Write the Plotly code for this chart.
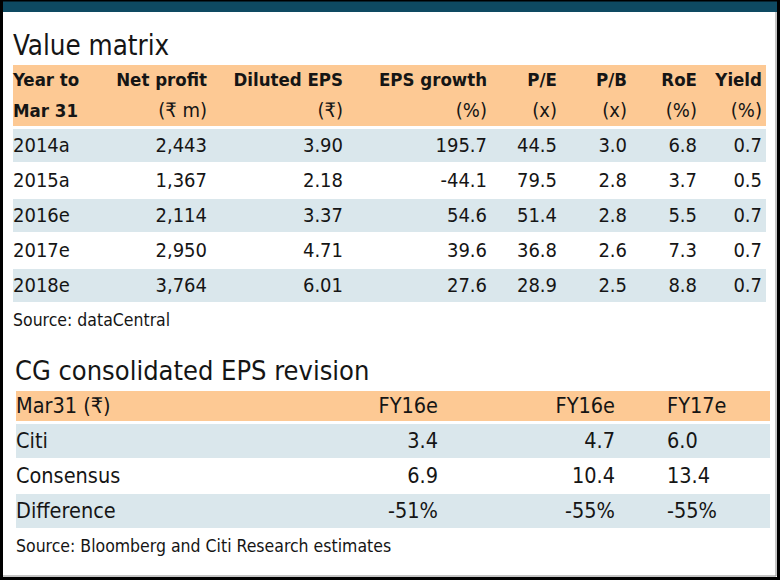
import plotly.graph_objects as go

W, H = 780, 580

# ---- Value matrix data
years = ['2014a', '2015a', '2016e', '2017e', '2018e']
net_profit = [2443, 1367, 2114, 2950, 3764]
diluted_eps = [3.90, 2.18, 3.37, 4.71, 6.01]
eps_growth = [195.7, -44.1, 54.6, 39.6, 27.6]
pe = [44.5, 79.5, 51.4, 36.8, 28.9]
pb = [3.0, 2.8, 2.8, 2.6, 2.5]
roe = [6.8, 3.7, 5.5, 7.3, 8.8]
dividend_yield = [0.7, 0.5, 0.7, 0.7, 0.7]
matrix_titles = ['Year to', 'Net profit', 'Diluted EPS', 'EPS growth', 'P/E', 'P/B', 'RoE', 'Yield']
matrix_units = ['Mar 31', '(₹ m)', '(₹)', '(%)', '(x)', '(x)', '(%)', '(%)']

# ---- EPS revision data
rev_rows = ['Citi', 'Consensus', 'Difference']
rev_periods = ['FY16e', 'FY16e', 'FY17e']
citi = [3.4, 4.7, 6.0]
consensus = [6.9, 10.4, 13.4]
difference = [-51, -55, -55]

ORANGE = '#fdc994'
BLUE = '#dae7ec'
TEAL = '#0e4a62'
INK = '#151515'
COND = 'DejaVu Sans Condensed, DejaVu Sans, sans-serif'
CLEAR = 'rgba(0,0,0,0)'
NBSP = '\u00a0'  # keeps plotly from treating a label as wrappable text


def px(x):
    return x / W


def py(y):
    return 1 - y / H


def nowrap(s):
    return s.replace(' ', NBSP)


fig = go.Figure()

# table 1 -- transparent cells, stripes are drawn as shapes below.
# the unit line goes in as the first body row so it stays right-aligned.
tbl1_top, title1_h, row1_h = 64, 30, 35
data1_top = tbl1_top + title1_h + row1_h
align1 = ['left'] + ['right'] * 7
fmts = [None, '{:,}', '{:.2f}', '{:.1f}', '{:.1f}', '{:.1f}', '{:.1f}', '{:.1f}']
series1 = [years, net_profit, diluted_eps, eps_growth, pe, pb, roe, dividend_yield]
cols1 = []
for k, (unit, vals, f) in enumerate(zip(matrix_units, series1, fmts)):
    head = '' if k == 0 else nowrap(unit)  # 'Mar 31' is drawn bold below
    cols1.append([head] + [v if f is None else f.format(v) for v in vals])
bounds1 = [5, 103, 215, 351, 495, 565, 635, 705, 770]
widths1 = [b - a for a, b in zip(bounds1[:-1], bounds1[1:])]

fig.add_trace(go.Table(
    domain=dict(x=[px(bounds1[0]), px(bounds1[-1])], y=[py(347), py(tbl1_top)]),
    columnwidth=widths1,
    header=dict(values=[nowrap(t) for t in matrix_titles], height=title1_h,
                align=align1, fill_color=CLEAR, line_width=0,
                font=dict(family=COND, size=18.5, color=INK, weight=700)),
    cells=dict(values=cols1, height=row1_h,
               align=align1, fill_color=CLEAR, line_width=0,
               font=dict(family=COND, size=20, color=INK)),
))

# table 2
hdr2_top, hdr2_h, row2_h = 389, 35, 35
rev_cols = [rev_rows]
for j in range(len(rev_periods)):
    rev_cols.append(['%.1f' % citi[j], '%.1f' % consensus[j], '%d%%' % difference[j]])
cols2 = rev_cols[:3] + [['', '', '']] + rev_cols[3:]
header2 = [nowrap('Mar31 (₹)'), rev_periods[0], rev_periods[1], '', rev_periods[2]]
align2 = ['left', 'right', 'right', 'left', 'left']
bounds2 = [8, 250, 446, 623, 659, 770]
widths2 = [b - a for a, b in zip(bounds2[:-1], bounds2[1:])]

fig.add_trace(go.Table(
    domain=dict(x=[px(bounds2[0]), px(bounds2[-1])], y=[py(560), py(hdr2_top)]),
    columnwidth=widths2,
    header=dict(values=header2, height=hdr2_h,
                align=align2, fill_color=CLEAR, line_width=0,
                font=dict(family=COND, size=21.5, color=INK)),
    cells=dict(values=cols2, height=row2_h,
               align=align2, fill_color=CLEAR, line_width=0,
               font=dict(family=COND, size=21.5, color=INK)),
))

shapes = []


def band(x0, x1, y0, y1, color):
    shapes.append(dict(type='rect', xref='paper', yref='paper', layer='below',
                       x0=px(x0), x1=px(x1), y0=py(y1), y1=py(y0),
                       fillcolor=color, line_width=0))


# header bands and stripes
band(13, 766, 65, data1_top - 3, ORANGE)
for i in range(len(years)):
    if i % 2 == 0:
        y0 = data1_top + i * row1_h
        band(13, 766, y0, y0 + row1_h - 2, BLUE)
band(16, 770, 391, hdr2_top + hdr2_h - 3, ORANGE)
for i in range(len(rev_rows)):
    if i % 2 == 0:
        y0 = hdr2_top + hdr2_h + i * row2_h
        band(16, 770, y0, y0 + row2_h - 1, BLUE)

# top bar and frame
band(0, 780, 0, 12, TEAL)
shapes.append(dict(type='rect', xref='paper', yref='paper', layer='above',
                   x0=px(1.5), x1=px(778.5), y0=py(578.5), y1=py(0),
                   line=dict(color='black', width=3), fillcolor=CLEAR))
shapes.append(dict(type='line', xref='paper', yref='paper', layer='above',
                   x0=px(776), x1=px(776), y0=py(576), y1=py(12),
                   line=dict(color='#8a8a8a', width=1)))
shapes.append(dict(type='line', xref='paper', yref='paper', layer='above',
                   x0=px(3), x1=px(776), y0=py(576), y1=py(576),
                   line=dict(color='#8a8a8a', width=1)))


def label(text, x, y, size, weight=400):
    fig.add_annotation(text=text, x=px(x), y=py(y), xref='paper', yref='paper',
                       xanchor='left', yanchor='middle', showarrow=False,
                       font=dict(family=COND, size=size, color=INK, weight=weight))


label('Value matrix', 11, 45, 27.5)
label(matrix_units[0], 11, tbl1_top + title1_h + row1_h / 2 - 1.5, 18.5, weight=700)
label('Source: dataCentral', 11, 320, 17.5)
label('CG consolidated EPS revision', 13, 370, 27)
label('Source: Bloomberg and Citi Research estimates', 14, 546, 17.5)

fig.update_layout(width=W, height=H, margin=dict(l=0, r=0, t=0, b=0),
                  paper_bgcolor='white', plot_bgcolor='white', shapes=shapes)

# page body has a default margin; drop it so the figure fills the window
fig.write_html('out.html', config={'displayModeBar': False},
               post_script="document.body.style.margin='0';")
